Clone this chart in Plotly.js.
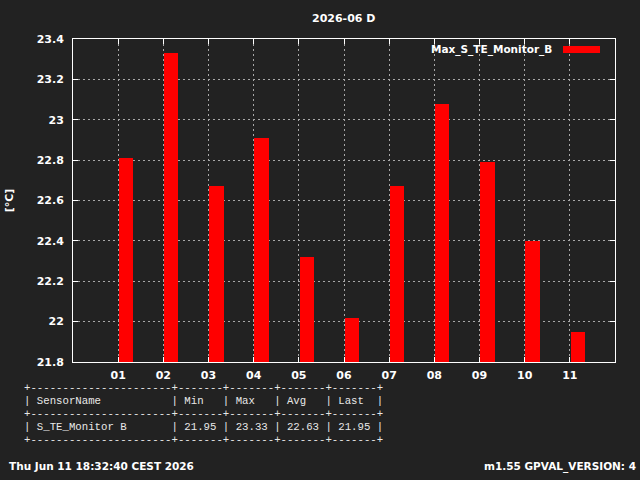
<!DOCTYPE html>
<html>
<head>
<meta charset="utf-8">
<script src="https://cdn.plot.ly/plotly-3.0.1.min.js"></script>
<style>html,body{margin:0;padding:0;background:#222222;}#chart{width:640px;height:480px;}</style>
</head>
<body>
<div id="chart"></div>
<script>
// ---- data ----
var categories = ["01","02","03","04","05","06","07","08","09","10","11"];
var maxValues = [22.81, 23.33, 22.67, 22.91, 22.32, 22.02, 22.67, 23.08, 22.79, 22.40, 21.95];
var seriesName = "Max_S_TE_Monitor_B";
var chartTitle = "2026-06 D";
var yTitle = "[°C]";
var tableHeader = ["SensorName", "Min", "Max", "Avg", "Last"];
var tableRow = ["S_TE_Monitor B", "21.95", "23.33", "22.63", "21.95"];
var footerLeft = "Thu Jun 11 18:32:40 CEST 2026";
var footerRight = "m1.55 GPVAL_VERSION: 4";

// ---- layout helpers ----
var W = 640, H = 480;
var M = {l: 73, r: 25, t: 39, b: 118};
var PW = W - M.l - M.r, PH = H - M.t - M.b;
function px(x) { return (x - M.l) / PW; }
function py(y) { return (H - M.b - y) / PH; }

var colW = [22, 7, 7, 7, 7];
function pad(s, n) { s = " " + s; while (s.length < n) s += " "; return s; }
var sep = "+" + colW.map(function (w) { return "-".repeat(w); }).join("+") + "+";
function rowLine(cells) { return "|" + cells.map(function (c, i) { return pad(c, colW[i]); }).join("|") + "|"; }
var tableLines = [sep, rowLine(tableHeader), sep, rowLine(tableRow), sep];
function nb(s) { return s.replace(/ /g, "\u00A0"); }

var bold = "DejaVu Sans";
var annotations = [];
annotations.push({text: "<b>" + chartTitle + "</b>", xref: "paper", yref: "paper", x: px(343), y: py(19),
  xanchor: "center", yanchor: "middle", showarrow: false, font: {family: bold, size: 11, color: "#ffffff"}});
annotations.push({text: "<b>" + seriesName + "</b>", xref: "paper", yref: "paper", x: px(554), y: py(49),
  xanchor: "right", yanchor: "middle", showarrow: false, font: {family: bold, size: 10.5, color: "#ffffff"}});
annotations.push({text: "<b>" + footerLeft + "</b>", xref: "paper", yref: "paper", x: px(7), y: py(466),
  xanchor: "left", yanchor: "middle", showarrow: false, font: {family: bold, size: 10.5, color: "#ffffff"}});
annotations.push({text: "<b>" + footerRight + "</b>", xref: "paper", yref: "paper", x: px(638), y: py(466),
  xanchor: "right", yanchor: "middle", showarrow: false, font: {family: bold, size: 10.5, color: "#ffffff"}});
tableLines.forEach(function (line, i) {
  annotations.push({text: nb(line), xref: "paper", yref: "paper", x: px(22), y: py(387.5 + i * 13.2),
    xanchor: "left", yanchor: "middle", showarrow: false, font: {family: "Liberation Mono", size: 10.7, color: "#e8e8e8"}});
});

var shapes = [{type: "rect", xref: "paper", yref: "paper", x0: px(563), x1: px(600), y0: py(46), y1: py(53),
  fillcolor: "#ff0000", line: {width: 0}}];

var trace = {
  type: "bar", x: categories, y: maxValues, name: seriesName,
  width: 0.32, offset: 0.015,
  marker: {color: "#ff0000", line: {width: 0}},
  hoverinfo: "none"
};

var axisCommon = {
  showline: true, linecolor: "#ffffff", linewidth: 1, mirror: "ticks",
  ticks: "inside", ticklen: 5, tickcolor: "#ffffff", tickwidth: 1,
  showgrid: true, gridcolor: "#a8a8a8", gridwidth: 1, griddash: "2px,3px",
  zeroline: false,
  tickfont: {family: bold, size: 11, color: "#ffffff", weight: "bold"}
};

var layout = {
  width: W, height: H,
  margin: M,
  paper_bgcolor: "#222222", plot_bgcolor: "#222222",
  showlegend: false,
  bargap: 0,
  xaxis: Object.assign({}, axisCommon, {type: "category", range: [-1, 11], ticklabelstandoff: 3}),
  yaxis: Object.assign({}, axisCommon, {range: [21.8, 23.4], dtick: 0.2, tick0: 21.8, ticklabelstandoff: 6,
    title: {text: "<b>" + yTitle + "</b>", font: {family: bold, size: 11, color: "#ffffff"}, standoff: 20}}),
  annotations: annotations,
  shapes: shapes
};

Plotly.newPlot("chart", [trace], layout, {staticPlot: true, displayModeBar: false});
</script>
</body>
</html>
